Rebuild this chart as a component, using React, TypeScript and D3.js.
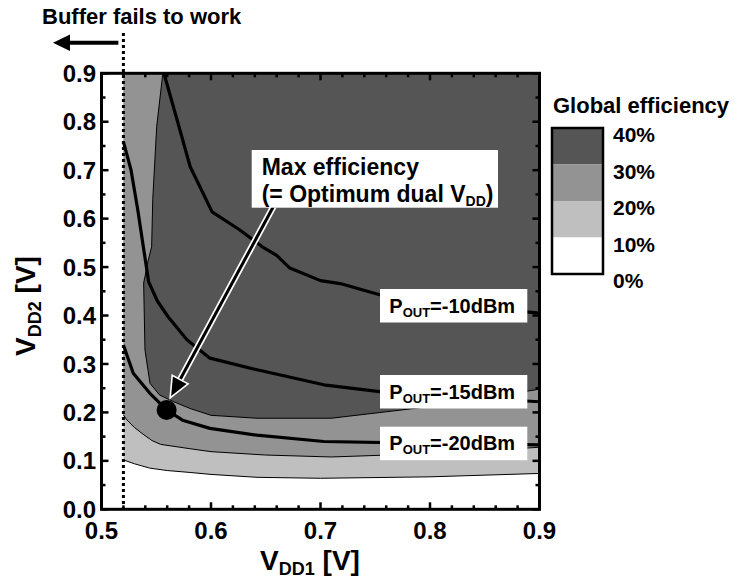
import React from "react";
import * as d3 from "d3";

// efficiency contour boundaries [VDD1, VDD2]
const contour10 = [[0.52, 0.102], [0.53, 0.094], [0.544, 0.085], [0.56, 0.08], [0.581, 0.076], [0.6, 0.072], [0.642, 0.066], [0.7, 0.064], [0.8, 0.067], [0.9, 0.074]];
const contour20 = [[0.52, 0.195], [0.523, 0.185], [0.53, 0.169], [0.538, 0.155], [0.546, 0.142], [0.554, 0.134], [0.581, 0.125], [0.6, 0.119], [0.65, 0.112], [0.71, 0.108], [0.8, 0.115], [0.9, 0.128]];
const contour30 = [[0.556, 0.9], [0.5504, 0.79], [0.5468, 0.639], [0.5458, 0.542], [0.5427, 0.514], [0.5385, 0.467], [0.5397, 0.329], [0.5443, 0.26], [0.553, 0.236], [0.566, 0.222], [0.581, 0.208], [0.6, 0.194], [0.642, 0.188], [0.71, 0.188], [0.8, 0.212], [0.9, 0.248]];

// output power curves
const pout10 = [[0.557, 0.9], [0.569, 0.804], [0.581, 0.707], [0.601, 0.614], [0.626, 0.577], [0.648, 0.54], [0.66, 0.524], [0.672, 0.498], [0.7, 0.472], [0.718, 0.466], [0.754, 0.443], [0.8, 0.43], [0.85, 0.416], [0.9, 0.405]];
const pout15 = [[0.52, 0.759], [0.527, 0.7], [0.533, 0.62], [0.539, 0.53], [0.543, 0.47], [0.551, 0.43], [0.561, 0.397], [0.578, 0.35], [0.599, 0.312], [0.642, 0.288], [0.703, 0.257], [0.754, 0.243], [0.82, 0.232], [0.9, 0.222]];
const pout20 = [[0.52, 0.339], [0.529, 0.281], [0.544, 0.24], [0.5595, 0.205], [0.574, 0.184], [0.599, 0.167], [0.642, 0.153], [0.703, 0.14], [0.8, 0.136], [0.9, 0.133]];

const maxPoint = [0.5595, 0.205];
const arrowFrom = [0.657, 0.625];
const bufferLimit = 0.52;

const xTicks = [0.5, 0.6, 0.7, 0.8, 0.9];
const yTicks = [0.0, 0.1, 0.2, 0.3, 0.4, 0.5, 0.6, 0.7, 0.8, 0.9];
const legendLabels = ["40%", "30%", "20%", "10%", "0%"];
const legendColors = ["#555555", "#939393", "#bfbfbf", "#ffffff"];

const poutLabels = [
  { dbm: "-10", yTop: 289 },
  { dbm: "-15", yTop: 375 },
  { dbm: "-20", yTop: 426.7 },
];

const FONT = "'Liberation Sans', Arial, Helvetica, sans-serif";

export default function App() {
  const x = d3.scaleLinear().domain([0.5, 0.9]).range([101.5, 539.5]);
  const y = d3.scaleLinear().domain([0, 0.9]).range([509.3, 73.3]);
  const line = d3.line<number[]>().x(d => x(d[0])).y(d => y(d[1]));

  // close a contour upward to the top edge of the plot
  const closeTop = (pts: number[][]) => {
    const first = pts[0], last = pts[pts.length - 1];
    return line([...pts, [last[0], 0.9], [first[0], 0.9]]) + "Z";
  };
  const darkPath = line([...contour30, [0.9, 0.9]]) + "Z";

  const xMinor = d3.range(0.5, 0.9001, 0.02);
  const yMinor = d3.range(0, 0.9001, 0.05);
  const [x0, x1] = x.range();
  const [y0, y1] = y.range();

  // arrow from label box to max point
  const ax1 = x(arrowFrom[0]), ay1 = y(arrowFrom[1]);
  const tipX = x(maxPoint[0]) + 3.5, tipY = y(maxPoint[1]) - 12;
  const ang = Math.atan2(tipY - ay1, tipX - ax1);
  const hl = 21, hw = 9;
  const bx = tipX - hl * Math.cos(ang), by = tipY - hl * Math.sin(ang);
  const head = [
    [tipX, tipY],
    [bx + hw * Math.sin(ang), by - hw * Math.cos(ang)],
    [bx - hw * Math.sin(ang), by + hw * Math.cos(ang)],
  ];

  const legX = 552, legY = 128, legW = 51, legBand = 36.5;

  return (
    <svg width={753} height={580} style={{ position: "absolute", left: 0, top: 0, background: "#fff" }} fontFamily={FONT} fontWeight="bold">
      <rect width={753} height={580} fill="#fff" />
      {/* filled contours */}
      <path d={closeTop(contour10)} fill="#bfbfbf" />
      <path d={closeTop(contour20)} fill="#939393" />
      <path d={darkPath} fill="#555555" />
      {[contour10, contour20, contour30].map((c, i) => (
        <path key={i} d={line(c) || ""} fill="none" stroke="#000" strokeWidth={1} />
      ))}
      {/* output power curves */}
      {[pout10, pout15, pout20].map((c, i) => (
        <path key={i} d={line(c) || ""} fill="none" stroke="#000" strokeWidth={3.2} strokeLinejoin="round" />
      ))}
      {/* buffer limit */}
      <line x1={x(bufferLimit)} x2={x(bufferLimit)} y1={33} y2={y0} stroke="#000" strokeWidth={3} strokeDasharray="3 3" />
      <line x1={x(bufferLimit) - 5} x2={68} y1={42.7} y2={42.7} stroke="#000" strokeWidth={4} />
      <polygon points={`53,42.7 70,34.5 70,51`} fill="#000" />
      <text x={42} y={24} fontSize={22}>Buffer fails to work</text>

      {/* ticks */}
      {xMinor.map((v, i) => {
        const major = Math.abs(v * 10 - Math.round(v * 10)) < 1e-6;
        const l = major ? 7 : 4;
        return (
          <g key={"xt" + i} stroke="#000" strokeWidth={2.5}>
            <line x1={x(v)} x2={x(v)} y1={y0} y2={y0 - l} />
            <line x1={x(v)} x2={x(v)} y1={y1} y2={y1 + l} />
          </g>
        );
      })}
      {yMinor.map((v, i) => {
        const major = i % 2 === 0;
        const l = major ? 7 : 4;
        return (
          <g key={"yt" + i} stroke="#000" strokeWidth={2.5}>
            <line x1={x0} x2={x0 + l} y1={y(v)} y2={y(v)} />
            <line x1={x1} x2={x1 - l} y1={y(v)} y2={y(v)} />
          </g>
        );
      })}
      <rect x={x0} y={y1} width={x1 - x0} height={y0 - y1} fill="none" stroke="#000" strokeWidth={3} />

      {/* tick labels */}
      {xTicks.map(v => (
        <text key={v} x={x(v)} y={539} fontSize={24} textAnchor="middle">{v.toFixed(1)}</text>
      ))}
      {yTicks.map(v => (
        <text key={v} x={96} y={y(v) + 8.6} fontSize={24} textAnchor="end">{v.toFixed(1)}</text>
      ))}
      {/* axis titles */}
      <text x={310} y={570} fontSize={28} textAnchor="middle">
        V<tspan fontSize={18} dy={5}>DD1</tspan><tspan dy={-5}> [V]</tspan>
      </text>
      <text transform="translate(35,306) rotate(-90)" fontSize={28} textAnchor="middle">
        V<tspan fontSize={18} dy={6}>DD2</tspan><tspan dy={-6}> [V]</tspan>
      </text>

      {/* max point + arrow */}
      <line x1={ax1} y1={ay1} x2={bx} y2={by} stroke="#fff" strokeWidth={6.5} />
      <line x1={ax1} y1={ay1} x2={bx} y2={by} stroke="#000" strokeWidth={3} />
      <polygon points={head.map(p => p.join(",")).join(" ")} fill="#000" stroke="#fff" strokeWidth={1.6} />
      <circle cx={x(maxPoint[0])} cy={y(maxPoint[1])} r={10} fill="#000" />

      <rect x={251.7} y={150} width={246.3} height={57.7} fill="#fff" />
      <text x={261.7} y={175} fontSize={23}>Max efficiency</text>
      <text x={261.7} y={201.7} fontSize={23}>
        (= Optimum dual V<tspan fontSize={14} dy={4}>DD</tspan><tspan dy={-4}>)</tspan>
      </text>

      {poutLabels.map(p => (
        <g key={p.dbm}>
          <rect x={380} y={p.yTop} width={147.3} height={33.5} fill="#fff" />
          <text x={389.3} y={p.yTop + 23.7} fontSize={20}>
            P<tspan fontSize={13} dy={4}>OUT</tspan><tspan dy={-4}>={p.dbm}dBm</tspan>
          </text>
        </g>
      ))}

      {/* legend */}
      <text x={553} y={113} fontSize={22}>Global efficiency</text>
      {legendColors.map((c, i) => (
        <rect key={c} x={legX} y={legY + i * legBand} width={legW} height={legBand} fill={c} />
      ))}
      <rect x={legX} y={legY} width={legW} height={legBand * 4} fill="none" stroke="#000" strokeWidth={2.5} />
      {legendLabels.map((l, i) => (
        <text key={l} x={613} y={legY + i * legBand + 14} fontSize={21}>{l}</text>
      ))}
    </svg>
  );
}
